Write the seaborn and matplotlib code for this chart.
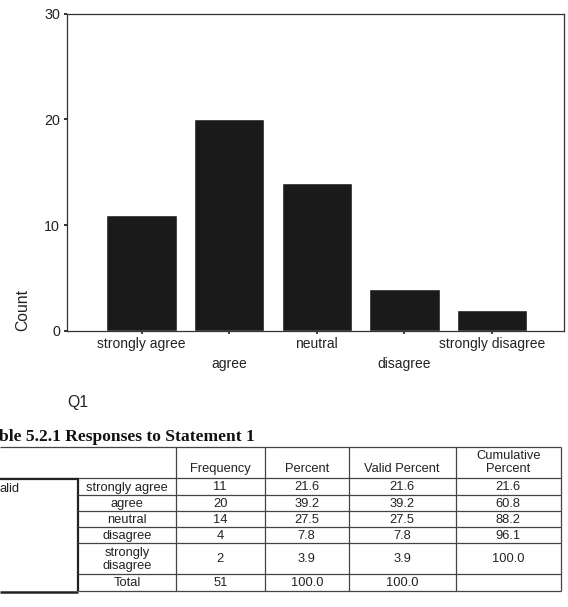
import matplotlib
matplotlib.use("Agg")
import matplotlib.pyplot as plt
import seaborn as sns
import pandas as pd

# ---- data ----
categories = ["strongly agree", "agree", "neutral", "disagree", "strongly disagree"]
counts = [11, 20, 14, 4, 2]
percent = ["21.6", "39.2", "27.5", "7.8", "3.9"]
valid_percent = ["21.6", "39.2", "27.5", "7.8", "3.9"]
cumulative_percent = ["21.6", "60.8", "88.2", "96.1", "100.0"]
total_count = "51"
total_percent = "100.0"
yticks = [0, 10, 20, 30]
table_title = "ble 5.2.1 Responses to Statement 1"
headers = ["Frequency", "Percent", "Valid Percent", "Cumulative\nPercent"]
row_labels = ["strongly agree", "agree", "neutral", "disagree", "strongly\ndisagree", "Total"]

sns.set_style("ticks")
plt.rcParams["font.family"] = ["Liberation Sans", "DejaVu Sans"]

W, H = 568, 607
fig = plt.figure(figsize=(W / 100, H / 100), dpi=100)

# ---- bar chart ----
L, R, T, B = 67, 564, 13.5, 331
ax = fig.add_axes([L / W, 1 - B / H, (R - L) / W, (B - T) / H])
df = pd.DataFrame({"Q1": categories, "Count": counts})
sns.barplot(data=df, x="Q1", y="Count", color="#1a1a1a", saturation=1,
            width=0.8, ax=ax, order=categories)
ax.set_xlim(-0.85, 4.82)
ax.set_ylim(0, 30)
ax.set_yticks(yticks)
ax.set_yticklabels([str(v) for v in yticks], fontsize=10.3, color="#222222")
for s in ax.spines.values():
    s.set_visible(True)
    s.set_color("#333333")
    s.set_linewidth(0.9)
ax.tick_params(axis="y", length=2.5, width=1.3, pad=2.5, color="#222222")

# staggered category labels
major_idx = [0, 2, 4]
minor_idx = [1, 3]
ax.set_xticks(major_idx)
ax.set_xticklabels([categories[i] for i in major_idx], fontsize=10, color="#222222")
ax.set_xticks(minor_idx, minor=True)
ax.set_xticklabels([categories[i] for i in minor_idx], minor=True, fontsize=10, color="#222222")
ax.tick_params(axis="x", which="major", length=2.5, width=1.2, pad=2, color="#222222")
ax.tick_params(axis="x", which="minor", length=2.5, width=1.2, pad=16.5, color="#222222")

ax.set_xlabel("Q1", fontsize=11.3, color="#222222")
ax.xaxis.set_label_coords(0.0, -(402 - B) / (B - T))
ax.xaxis.label.set_ha("left")
ax.xaxis.label.set_va("center")
ax.set_ylabel("Count", fontsize=11.3, color="#222222")
ax.yaxis.set_label_coords(-(L - 22.7) / (R - L), 0.0)
ax.yaxis.label.set_va("center")
ax.yaxis.label.set_ha("left")

# ---- table (pixel coordinate overlay) ----
tax = fig.add_axes([0, 0, 1, 1])
tax.set_xlim(0, W)
tax.set_ylim(H, 0)
tax.axis("off")

tax.text(-1, 437, table_title, fontsize=12.6, fontweight="bold",
         family=["Liberation Serif", "DejaVu Serif"], ha="left", va="center", color="#111111")

col_x = [78, 176, 264.5, 349, 455.5, 561]
row_y = [478, 495, 511, 527, 543, 574, 591]
top_y = 447
lc = "#444444"
lw = 0.9
tax.hlines(top_y, 0, col_x[-1], color=lc, lw=lw)
tax.hlines(row_y[0], 0, col_x[-1], color=lc, lw=lw)
for x in col_x[1:]:
    tax.vlines(x, top_y, row_y[-1], color=lc, lw=lw)
tax.vlines(col_x[0], row_y[0], row_y[-1], color="#222222", lw=1.6)
for y in row_y[1:-1]:
    tax.hlines(y, col_x[0], col_x[-1], color=lc, lw=lw)
tax.hlines(row_y[-1], col_x[0], col_x[-1], color=lc, lw=lw)
tax.hlines(row_y[0] + 0.5, 0, col_x[0], color="#222222", lw=1.6)
tax.hlines(row_y[-1] + 0.5, 0, col_x[0], color="#222222", lw=1.8)

fs = 9.3
tc = "#222222"
hdr_centers = [(col_x[i] + col_x[i + 1]) / 2 for i in range(1, 5)]
for cx, h in zip(hdr_centers, headers):
    tax.text(cx, 475, h, fontsize=fs, ha="center", va="bottom", color=tc,
             multialignment="center", linespacing=1.15)

tax.text(-1, 488.5, "alid", fontsize=fs, ha="left", va="center", color=tc)

freq_vals = [str(c) for c in counts] + [total_count]
pct_vals = percent + [total_percent]
vp_vals = valid_percent + [total_percent]
cum_vals = cumulative_percent + [""]
cat_cx = (col_x[0] + col_x[1]) / 2
for i, lab in enumerate(row_labels):
    cy = (row_y[i] + row_y[i + 1]) / 2 + 1
    tax.text(cat_cx, cy, lab, fontsize=fs, ha="center", va="center", color=tc,
             linespacing=1.15)
    for cx, vals in zip(hdr_centers, [freq_vals, pct_vals, vp_vals, cum_vals]):
        if vals[i]:
            tax.text(cx, cy, vals[i], fontsize=fs, ha="center", va="center", color=tc)

fig.savefig("out.png", dpi=100)
